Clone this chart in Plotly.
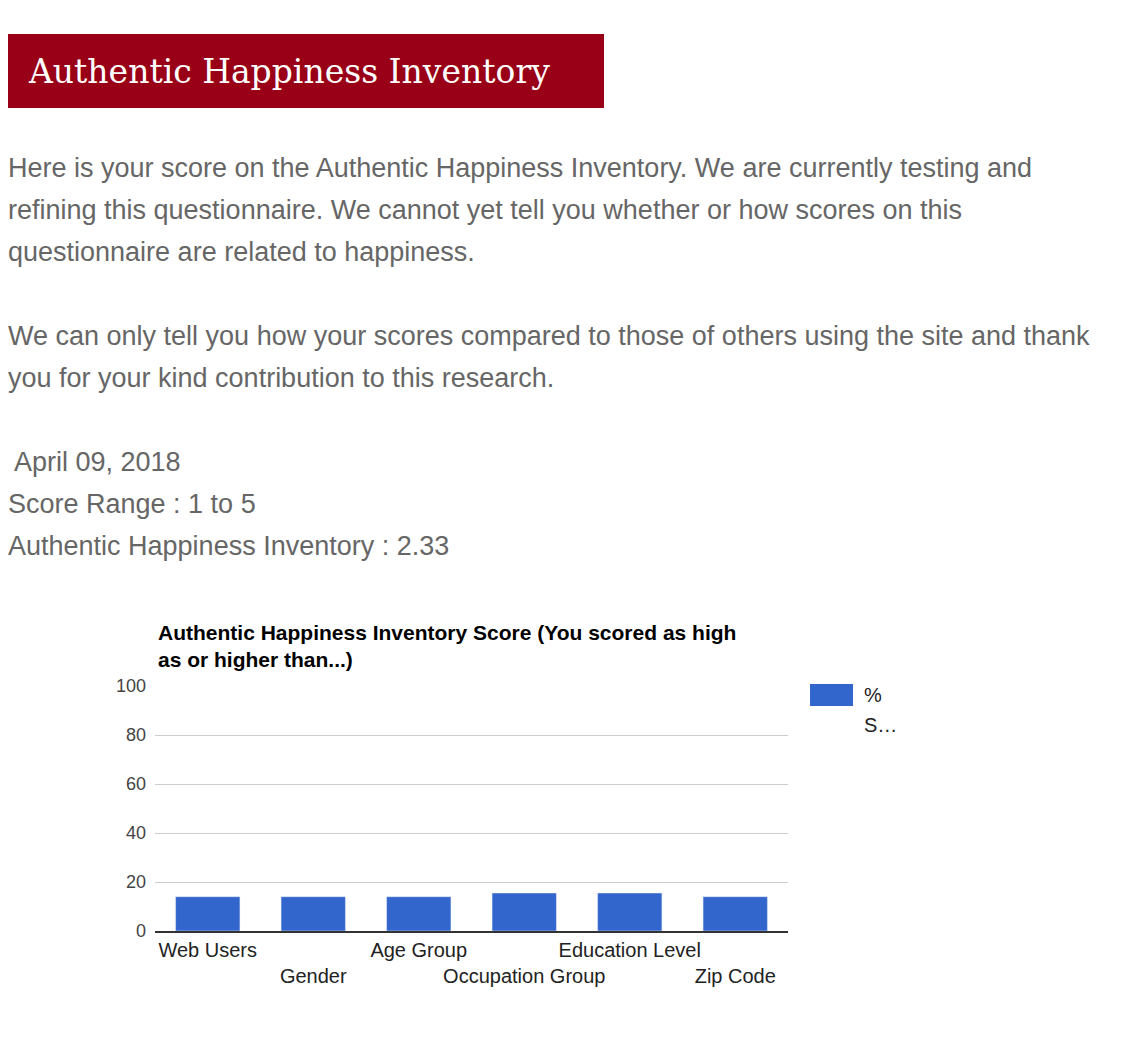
import plotly.graph_objects as go

# chart data
categories = ["Web Users", "Gender", "Age Group", "Occupation Group", "Education Level", "Zip Code"]
percent_scored = [14, 14, 14, 15.5, 15.5, 14]
y_ticks = [0, 20, 40, 60, 80, 100]

OFF = 8  # page body margin
W, H = 1142 - 2 * OFF, 1044 - 2 * OFF
L, R, T, B = 155 - OFF, 788 - OFF, 686 - OFF, 931 - OFF  # plot area in figure pixels


def px(x):
    return (x - OFF - L) / (R - L)


def py(y):
    return (B - (y - OFF)) / (B - T)


# stagger tick labels on two rows like the original
tick_text = [c if i % 2 == 0 else "<br>" + c for i, c in enumerate(categories)]

fig = go.Figure()
fig.add_trace(go.Bar(x=categories, y=percent_scored, marker_color="#3366cc",
                     name="%<br>S…", showlegend=False))

fig.update_layout(
    width=W, height=H,
    margin=dict(l=L, r=W - R, t=T, b=H - B, autoexpand=False),
    paper_bgcolor="white", plot_bgcolor="white",
    bargap=0.39,
    font=dict(family="Liberation Sans, Arial", color="#444", size=19),
    xaxis=dict(tickvals=categories, ticktext=tick_text, showline=True, automargin=False,
               tickangle=0, linecolor="#333", linewidth=2, ticks="",
               tickfont=dict(size=20, color="#222")),
    yaxis=dict(range=[0, 100], tickvals=y_ticks, gridcolor="#ccc", zeroline=False,
               automargin=False, tickfont=dict(size=18, color="#444"), ticklabelstandoff=8),
)

# header banner
fig.add_shape(type="rect", xref="paper", yref="paper",
              x0=px(6), x1=px(604), y0=py(108), y1=py(34),
              fillcolor="#990017", line_width=0)

notes = [
    (26, 71, "Authentic Happiness Inventory", dict(family="DejaVu Serif", size=33, color="white")),
]
body = dict(family="Liberation Sans, Arial", size=27, color="#666")
lines = [
    (168, "Here is your score on the Authentic Happiness Inventory. We are currently testing and"),
    (210, "refining this questionnaire. We cannot yet tell you whether or how scores on this"),
    (252, "questionnaire are related to happiness."),
    (336, "We can only tell you how your scores compared to those of others using the site and thank"),
    (378, "you for your kind contribution to this research."),
    (462, " April 09, 2018"),
    (504, "Score Range : 1 to 5"),
    (546, "Authentic Happiness Inventory : 2.33"),
]
for y, t in lines:
    notes.append((6, y, t, body))
for x, y, t, f in notes:
    fig.add_annotation(x=px(x), y=py(y), xref="paper", yref="paper", text=t,
                       showarrow=False, xanchor="left", yanchor="middle", font=f)

# chart title
fig.add_annotation(x=px(156), y=py(646), xref="paper", yref="paper",
                   text="<b>Authentic Happiness Inventory Score (You scored as high<br>as or higher than...)</b>",
                   showarrow=False, xanchor="left", yanchor="middle", align="left",
                   font=dict(family="Liberation Sans, Arial", size=21, color="#000"))

# legend
fig.add_shape(type="rect", xref="paper", yref="paper",
              x0=px(810), x1=px(853), y0=py(706), y1=py(684),
              fillcolor="#3366cc", line_width=0)
fig.add_annotation(x=px(862), y=py(695), xref="paper", yref="paper", text="%",
                   showarrow=False, xanchor="left", yanchor="middle",
                   font=dict(family="Liberation Sans, Arial", size=20, color="#222"))
fig.add_annotation(x=px(862), y=py(725), xref="paper", yref="paper", text="S…",
                   showarrow=False, xanchor="left", yanchor="middle",
                   font=dict(family="Liberation Sans, Arial", size=20, color="#222"))

fig.write_html("out.html")
